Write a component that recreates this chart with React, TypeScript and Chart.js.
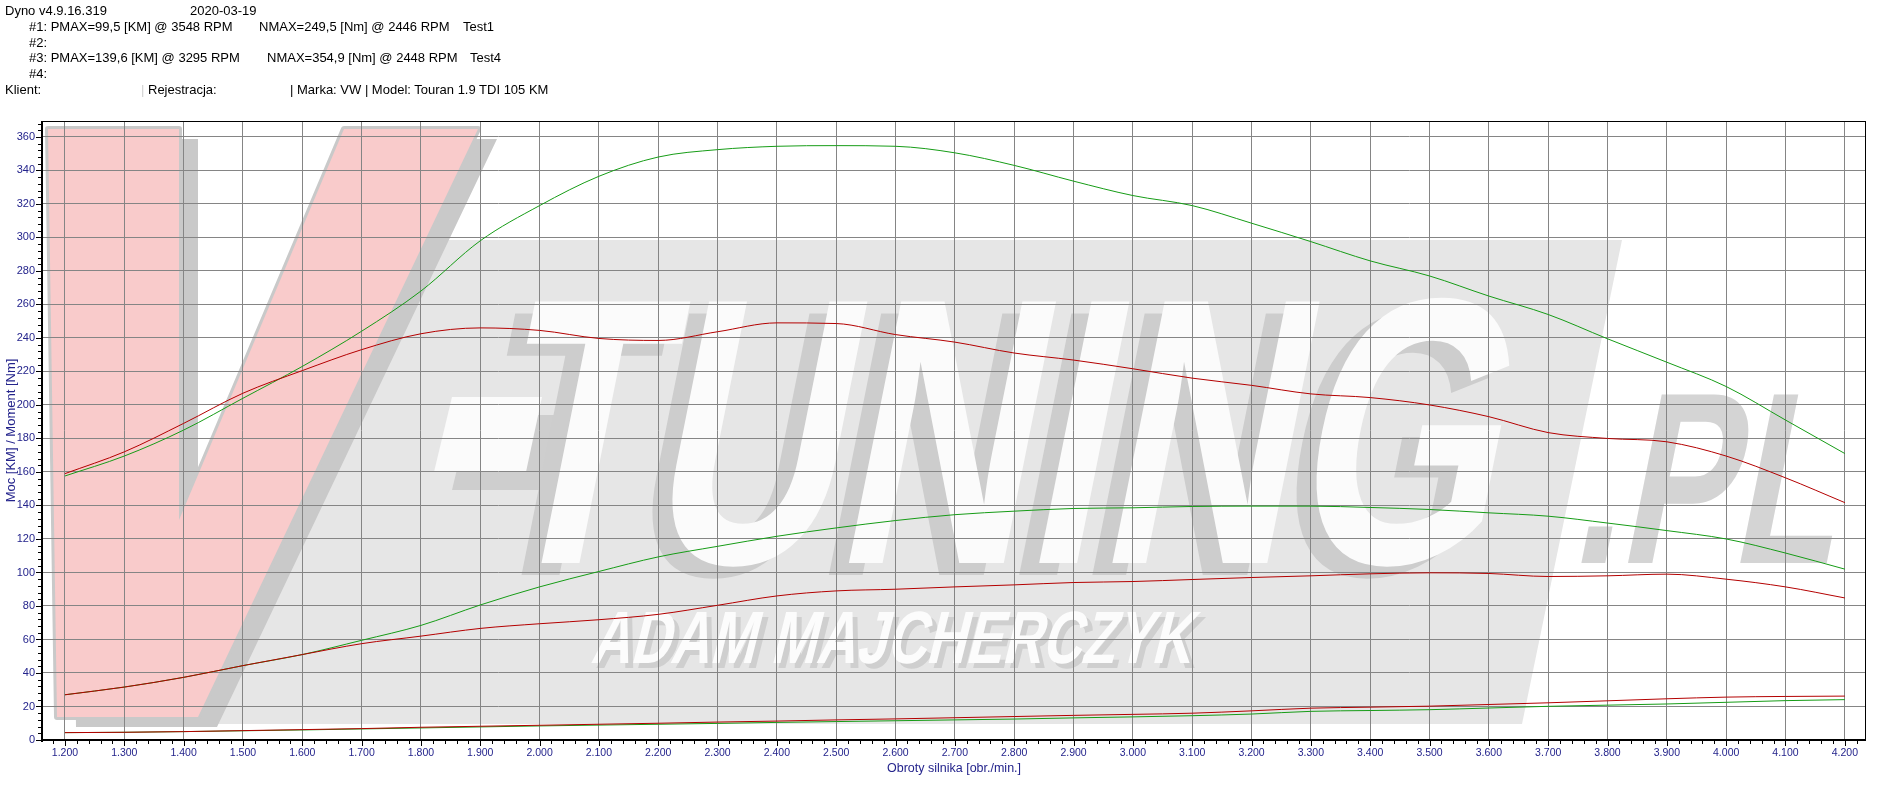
import React, { useEffect, useRef } from 'react';
import { Chart, registerables } from 'chart.js';

Chart.register(...registerables);

// ---------- DATA ----------
const rpm = [1200, 1300, 1400, 1500, 1600, 1700, 1800, 1900, 2000, 2100, 2200, 2300, 2400, 2500, 2600, 2700, 2800, 2900, 3000, 3100, 3200, 3300, 3400, 3500, 3600, 3700, 3800, 3900, 4000, 4100, 4200];

const torqueTest1 = [159, 172, 189, 207, 220.5, 233, 242.5, 246, 244.5, 239.7, 238.5, 243.7, 249, 248.6, 242, 237.5, 231, 226.8, 221.6, 216, 211.7, 206.6, 204.4, 200, 193, 183.5, 180, 178, 169.5, 156.5, 141.7];
const torqueTest4 = [157.6, 169.5, 185, 204, 223, 244, 268, 298, 319, 336.5, 348, 352.4, 354.4, 354.8, 354.4, 350.5, 343, 333.6, 325, 319, 308.5, 297.5, 286, 277, 265, 254, 239.5, 225.5, 211, 191, 171];
const powerTest1 = [27, 31.6, 37.4, 44.4, 51, 57.5, 62, 66.6, 69.4, 71.8, 75, 80.4, 86, 89, 90, 91.4, 92.6, 94, 94.6, 95.8, 97, 98, 99.2, 99.8, 99.4, 97.6, 98, 99, 96, 91.4, 84.8];
const powerTest4 = [27, 31.6, 37.4, 44.4, 51, 59.5, 68.4, 80.6, 91.4, 100.6, 109.3, 115.6, 121.6, 126.6, 131, 134.5, 136.6, 138.2, 138.6, 139.4, 139.6, 139.6, 138.8, 137.6, 135.6, 133.6, 129.5, 125, 120, 111.6, 102];
const lossTest1 = [4.4, 4.6, 5.0, 5.6, 6.2, 6.8, 7.6, 8.2, 8.8, 9.4, 10, 10.7, 11.3, 12, 12.6, 13.3, 14, 14.7, 15.3, 16, 17.4, 19, 19.6, 20.2, 21.2, 22.2, 23.4, 24.6, 25.6, 26, 26.2];
const lossTest4 = [4.4, 4.6, 5.0, 5.5, 6.0, 6.6, 7.2, 7.8, 8.4, 8.9, 9.4, 9.9, 10.5, 11, 11.5, 12, 12.5, 13.2, 13.8, 14.5, 15.5, 17.1, 17.6, 18.1, 19.1, 20.1, 20.8, 21.5, 22.5, 23.5, 24.1];

const xTickValues = [1200, 1300, 1400, 1500, 1600, 1700, 1800, 1900, 2000, 2100, 2200, 2300, 2400, 2500, 2600, 2700, 2800, 2900, 3000, 3100, 3200, 3300, 3400, 3500, 3600, 3700, 3800, 3900, 4000, 4100, 4200];
const xTickLabels = ['1.200', '1.300', '1.400', '1.500', '1.600', '1.700', '1.800', '1.900', '2.000', '2.100', '2.200', '2.300', '2.400', '2.500', '2.600', '2.700', '2.800', '2.900', '3.000', '3.100', '3.200', '3.300', '3.400', '3.500', '3.600', '3.700', '3.800', '3.900', '4.000', '4.100', '4.200'];
const yTickValues = [0, 20, 40, 60, 80, 100, 120, 140, 160, 180, 200, 220, 240, 260, 280, 300, 320, 340, 360];
const yTickLabels = ['0', '20', '40', '60', '80', '100', '120', '140', '160', '180', '200', '220', '240', '260', '280', '300', '320', '340', '360'];

const headerRows = [
  'Dyno v4.9.16.319',
  '2020-03-19',
  '#1: PMAX=99,5 [KM] @ 3548 RPM',
  'NMAX=249,5 [Nm] @ 2446 RPM',
  'Test1',
  '#2:',
  '#3: PMAX=139,6 [KM] @ 3295 RPM',
  'NMAX=354,9 [Nm] @ 2448 RPM',
  'Test4',
  '#4:',
  'Klient:',
  '|',
  'Rejestracja:',
  '| Marka: VW | Model: Touran 1.9 TDI 105 KM',
];

// layout for header texts (x, row)
const headerLayout: [number, number][] = [
  [5, 0], [190, 0], [29, 1], [259, 1], [463, 1], [29, 2], [29, 3], [267, 3], [470, 3], [29, 4], [5, 5], [141, 5], [148, 5], [290, 5],
];
const rowCenters = [10.5, 26.3, 42.1, 57.9, 73.7, 89.5];

const RED = '#b40000';
const GREEN = '#169c16';
const NAVY = '#24248c';
const FONT = "'Liberation Sans', Arial, sans-serif";

Chart.defaults.font.family = FONT;

function poly(ctx: CanvasRenderingContext2D, pts: number[][], dx = 0, dy = 0) {
  ctx.beginPath();
  pts.forEach(([x, y], i) => (i ? ctx.lineTo(x + dx, y + dy) : ctx.moveTo(x + dx, y + dy)));
  ctx.closePath();
}

function skewText(ctx: CanvasRenderingContext2D, text: string, font: string, x0: number, base: number, width: number, skew: number, color: string, dx = 0, dy = 0) {
  ctx.save();
  ctx.font = font;
  const m = ctx.measureText(text).width;
  ctx.transform(width / m, 0, -skew, 1, x0 + dx, base + dy);
  ctx.fillStyle = color;
  ctx.textAlign = 'left';
  ctx.textBaseline = 'alphabetic';
  ctx.fillText(text, 0, 0);
  ctx.restore();
}

const watermarkPlugin = {
  id: 'watermark',
  beforeDraw(chart: any) {
    const { ctx, chartArea: a } = chart;
    ctx.save();
    ctx.beginPath();
    ctx.rect(a.left, a.top, a.right - a.left, a.bottom - a.top);
    ctx.clip();
    // light gray box
    ctx.fillStyle = '#e6e6e6';
    poly(ctx, [[440, 240], [1622, 240], [1522, 724], [190, 724]]);
    ctx.fill();
    // V
    const V = [[48, 129], [179, 129], [179, 520], [344, 129], [478, 129], [198, 717], [57, 717]];
    ctx.lineJoin = 'round';
    ctx.fillStyle = '#c9c9c9';
    poly(ctx, V, 19, 10);
    ctx.fill();
    ctx.strokeStyle = '#c9c9c9';
    ctx.lineWidth = 6;
    poly(ctx, V);
    ctx.stroke();
    ctx.fillStyle = '#f9cbcb';
    poly(ctx, V);
    ctx.fill();
    // dash
    const D = [[452, 397], [542, 397], [526, 472], [434, 472]];
    ctx.fillStyle = '#cecece';
    poly(ctx, D, 18, 18);
    ctx.fill();
    ctx.fillStyle = '#fbfbfb';
    poly(ctx, D);
    ctx.fill();
    // TUNING
    skewText(ctx, 'TUNING', `bold 380px ${FONT}`, 480, 563, 1010, 0.2, '#cdcdcd', -20, 12);
    skewText(ctx, 'TUNING', `bold 380px ${FONT}`, 480, 563, 1010, 0.2, '#fbfbfb');
    // .PL
    skewText(ctx, '.PL', `bold 245px ${FONT}`, 1570, 563, 262, 0.2, '#d4d4d4');
    // ADAM MAJCHERCZYK
    skewText(ctx, 'ADAM MAJCHERCZYK', `bold 74px ${FONT}`, 590, 663, 600, 0.25, '#cfcfcf', 5, 5);
    skewText(ctx, 'ADAM MAJCHERCZYK', `bold 74px ${FONT}`, 590, 663, 600, 0.25, '#fcfcfc');
    ctx.restore();
  },
};

const axesPlugin = {
  id: 'axesFrame',
  afterDraw(chart: any) {
    const { ctx, chartArea: a, scales } = chart;
    const xs = scales.x;
    const ys = scales.y;
    ctx.save();
    ctx.fillStyle = '#000';
    // top & right thin border
    ctx.fillRect(a.left, a.top, a.right - a.left + 1, 1);
    ctx.fillRect(a.right, a.top, 1, a.bottom - a.top);
    // left & bottom thick axes
    ctx.fillRect(a.left - 2, a.top, 2, a.bottom - a.top + 2);
    ctx.fillRect(a.left - 2, a.bottom - 1, a.right - a.left + 3, 2);
    // x ticks
    for (let v = 1180; v <= 4220; v += 20) {
      const px = Math.round(xs.getPixelForValue(v));
      const len = v % 100 === 0 ? 5 : 3;
      ctx.fillRect(px, a.bottom + 1, 1, len);
    }
    // y ticks
    for (let v = 0; v <= 368; v += 4) {
      const py = Math.round(ys.getPixelForValue(v));
      const len = v % 20 === 0 ? 5 : 3;
      ctx.fillRect(a.left - 2 - len, py, len, 1);
    }
    ctx.restore();
  },
};

function series(label: string, vals: number[], color: string) {
  return {
    label,
    data: rpm.map((x, i) => ({ x, y: vals[i] })),
    borderColor: color,
    backgroundColor: color,
    borderWidth: 1,
    pointRadius: 0,
    cubicInterpolationMode: 'monotone' as const,
    fill: false,
  };
}

export default function App() {
  const ref = useRef<HTMLCanvasElement>(null);
  useEffect(() => {
    const canvas = ref.current!;
    const chart = new Chart(canvas, {
      type: 'line',
      data: {
        datasets: [
          series('Test1 Moment', torqueTest1, RED),
          series('Test1 Moc', powerTest1, RED),
          series('Test1 Straty', lossTest1, RED),
          series('Test4 Moment', torqueTest4, GREEN),
          series('Test4 Moc', powerTest4, GREEN),
          series('Test4 Straty', lossTest4, GREEN),
        ],
      },
      options: {
        animation: false,
        responsive: false,
        devicePixelRatio: 1,
        layout: { padding: { top: 121, right: 39, left: 0, bottom: 0 } },
        plugins: { legend: { display: false }, tooltip: { enabled: false } },
        scales: {
          x: {
            type: 'linear',
            min: 1163,
            max: 4234,
            afterBuildTicks: (s: any) => {
              s.ticks = xTickValues.map((v) => ({ value: v }));
            },
            afterFit: (s: any) => {
              s.height = 52;
            },
            grid: { color: '#858585', lineWidth: 1, drawTicks: false },
            border: { display: false },
            ticks: {
              color: NAVY,
              font: { size: 10.5 },
              padding: 7,
              maxRotation: 0,
              autoSkip: false,
              callback: (_v: any, i: number) => xTickLabels[i],
            },
            title: {
              display: true,
              text: 'Obroty silnika [obr./min.]',
              color: NAVY,
              font: { size: 12.5 },
              padding: { top: 0, bottom: 15.5 },
            },
          },
          y: {
            type: 'linear',
            min: 0,
            max: 369.5,
            afterBuildTicks: (s: any) => {
              s.ticks = yTickValues.map((v) => ({ value: v }));
            },
            afterFit: (s: any) => {
              s.width = 43;
            },
            grid: { color: '#858585', lineWidth: 1, drawTicks: false },
            border: { display: false },
            ticks: {
              color: NAVY,
              font: { size: 11 },
              padding: 8,
              autoSkip: false,
              callback: (_v: any, i: number) => yTickLabels[i],
            },
            title: {
              display: true,
              text: 'Moc [KM] / Moment [Nm]',
              color: NAVY,
              font: { size: 13 },
              padding: { top: 4, bottom: 0 },
            },
          },
        },
      },
      plugins: [watermarkPlugin, axesPlugin],
    } as any);
    return () => chart.destroy();
  }, []);

  return (
    <div style={{ position: 'fixed', left: 0, top: 0, width: 1904, height: 792, background: '#fff', overflow: 'hidden' }}>
      <canvas ref={ref} width={1904} height={792} style={{ position: 'absolute', left: 0, top: 0, width: 1904, height: 792 }} />
      {headerRows.map((t, i) => (
        <div
          key={i}
          style={{
            position: 'absolute',
            left: headerLayout[i][0],
            top: rowCenters[headerLayout[i][1]] - 7.5,
            lineHeight: '15px',
            fontSize: 13,
            fontFamily: FONT,
            color: t === '|' ? '#d0d0d0' : '#000',
            whiteSpace: 'pre',
          }}
        >
          {t}
        </div>
      ))}
    </div>
  );
}
